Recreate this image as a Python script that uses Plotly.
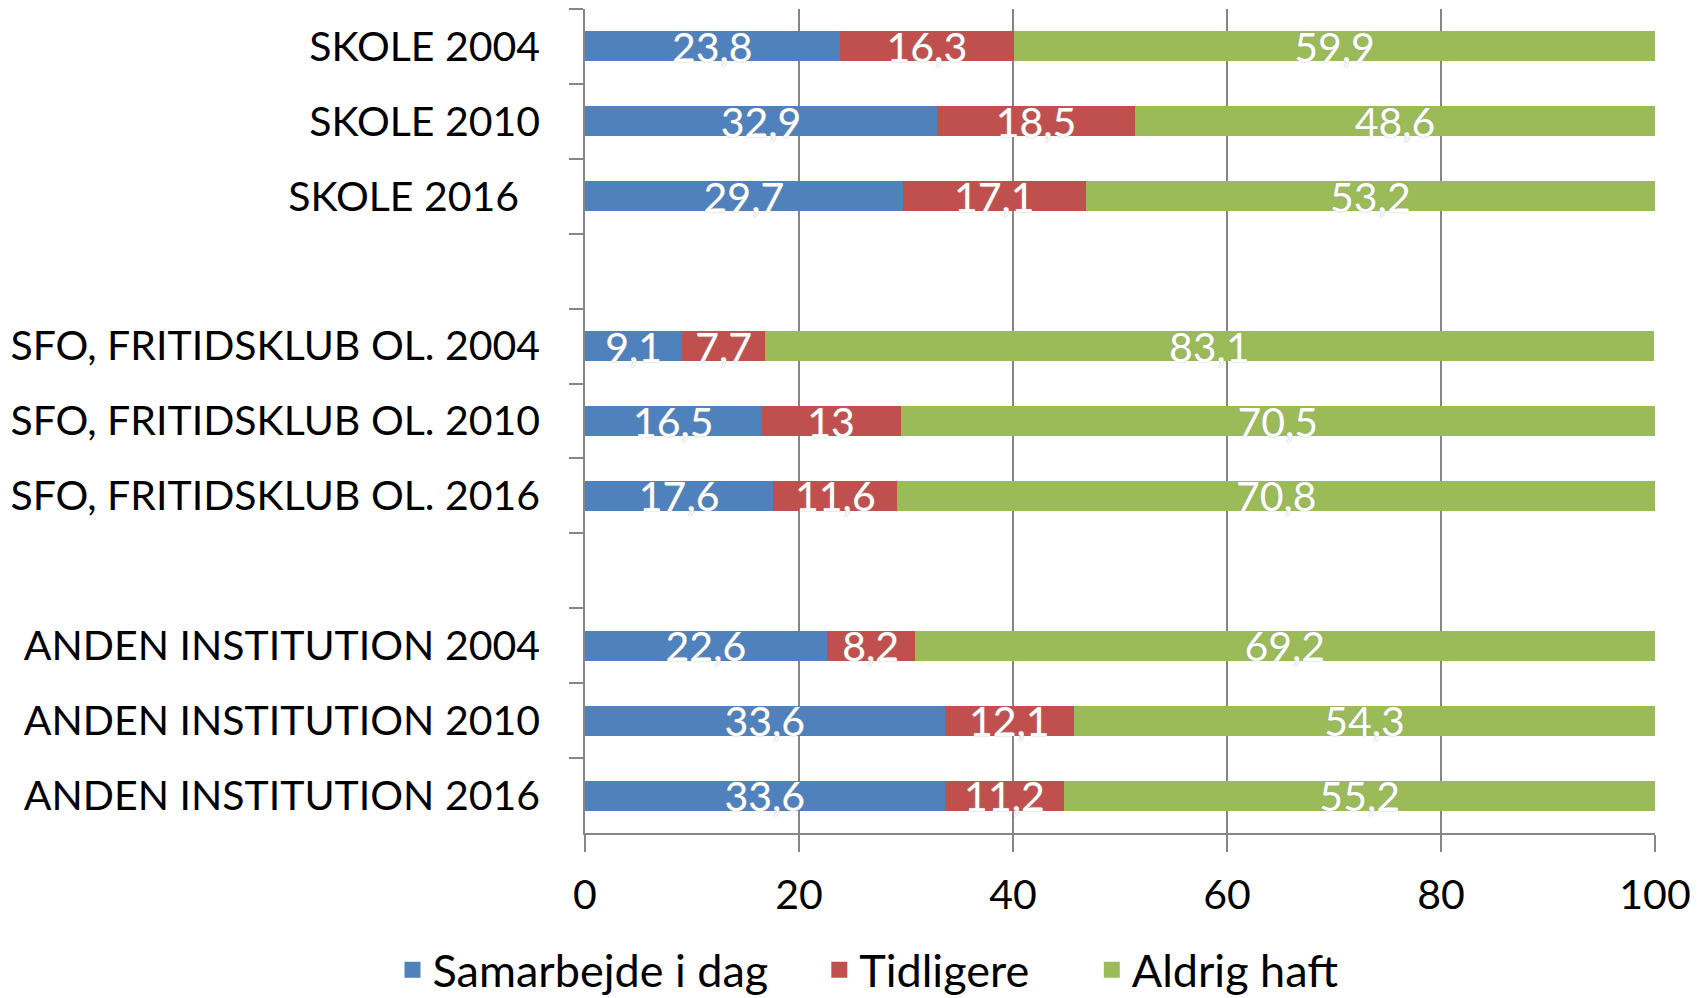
import plotly.graph_objects as go

categories = ["SKOLE 2004", "SKOLE 2010", "SKOLE 2016\u00a0\u00a0", "\u00a0",
              "SFO, FRITIDSKLUB OL. 2004", "SFO, FRITIDSKLUB OL. 2010", "SFO, FRITIDSKLUB OL. 2016", "\u00a0\u00a0",
              "ANDEN INSTITUTION 2004", "ANDEN INSTITUTION 2010", "ANDEN INSTITUTION 2016"]
samarbejde = [23.8, 32.9, 29.7, None, 9.1, 16.5, 17.6, None, 22.6, 33.6, 33.6]
tidligere = [16.3, 18.5, 17.1, None, 7.7, 13, 11.6, None, 8.2, 12.1, 11.2]
aldrig = [59.9, 48.6, 53.2, None, 83.1, 70.5, 70.8, None, 69.2, 54.3, 55.2]
series_names = ["Samarbejde i dag", "Tidligere", "Aldrig haft"]
colors = ["#4F81BD", "#C0504D", "#9BBB59"]
x_ticks = [0, 20, 40, 60, 80, 100]

FONT = "Lato"
FS = 41
LEG_FS = 45
PADS = ["\u00a0" * 4, "\u00a0" * 5, ""]

def fmt(v):
    if v is None:
        return ""
    s = f"{v:g}"
    return s.replace(".", ",")

fig = go.Figure()
for name, vals, col in zip(series_names, [samarbejde, tidligere, aldrig], colors):
    fig.add_trace(go.Bar(
        y=categories, x=vals, name=name, orientation="h",
        marker=dict(color=col, line=dict(width=0)),
        text=[fmt(v) for v in vals], textposition="inside", textangle=0,
        insidetextanchor="middle", constraintext="none",
        textfont=dict(family=FONT, size=FS, color="white",
                      shadow="0px 0px 1.5px #9a9a9a"),
        cliponaxis=False, showlegend=False, legendgroup=name,
    ))
# legend proxies (square markers)
for name, col, pad in zip(series_names, colors, PADS):
    fig.add_trace(go.Scatter(
        x=[None], y=[None], mode="markers", name=name + pad, legendgroup=name,
        marker=dict(symbol="square", size=26, color=col), showlegend=True,
    ))

fig.update_layout(
    barmode="stack", bargap=0.6,
    width=1707, height=998,
    margin=dict(l=577, r=60, t=1, b=173, autoexpand=False),
    paper_bgcolor="white", plot_bgcolor="white",
    font=dict(family=FONT, size=FS, color="black"),
    showlegend=True,
    legend=dict(orientation="h", xref="container", yref="container",
                x=0.5038, xanchor="center", y=-0.006, yanchor="bottom",
                traceorder="normal", itemsizing="trace",
                font=dict(family=FONT, size=LEG_FS, color="black"),
                itemwidth=30, tracegroupgap=0),
)
fig.update_xaxes(range=[0, 100], tickvals=x_ticks, showgrid=True,
                 gridcolor="#868686", gridwidth=1.5,
                 showline=True, linecolor="#868686", linewidth=1.5,
                 ticks="outside", ticklen=17, tickcolor="#868686", tickwidth=1.5,
                 ticklabelstandoff=8,
                 tickfont=dict(family=FONT, size=FS, color="black"),
                 zeroline=False, fixedrange=True, automargin=False)
fig.update_yaxes(categoryorder="array", categoryarray=categories, autorange="reversed",
                 showline=True, linecolor="#868686", linewidth=1.5,
                 ticks="outside", tickson="boundaries", ticklen=14,
                 tickcolor="#868686", tickwidth=1.5,
                 ticklabelstandoff=35,
                 tickfont=dict(family=FONT, size=FS, color="black"),
                 showgrid=False, fixedrange=True, automargin=False)

fig.write_html("out.html")
